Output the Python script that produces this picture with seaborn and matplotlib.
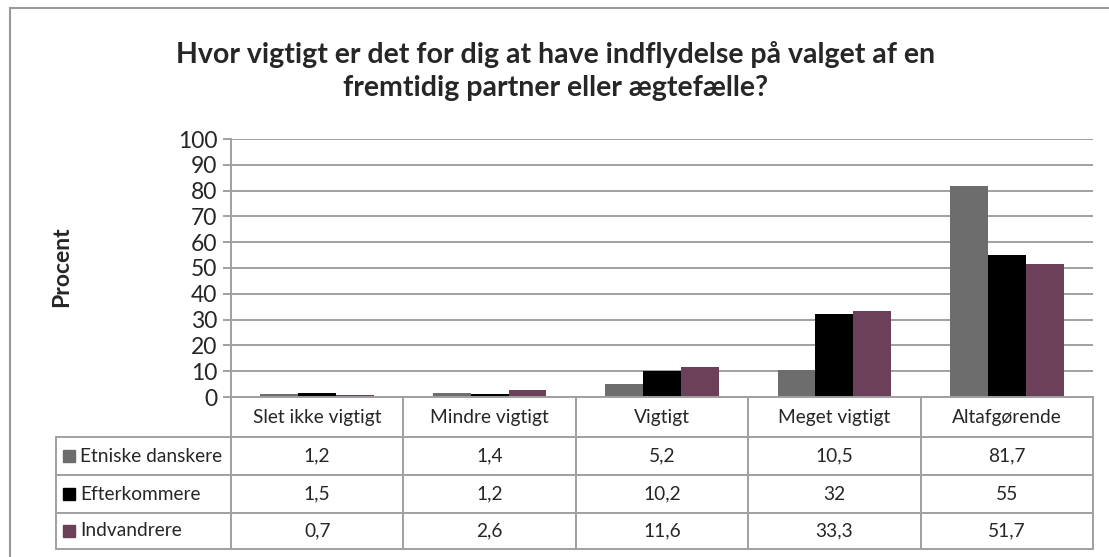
import numpy as np
import pandas as pd
import matplotlib.pyplot as plt
import seaborn as sns
from matplotlib.table import Table
from matplotlib.patches import Rectangle

# data
categories = ["Slet ikke vigtigt", "Mindre vigtigt", "Vigtigt", "Meget vigtigt", "Altafgørende"]
groups = ["Etniske danskere", "Efterkommere", "Indvandrere"]
etniske_danskere = [1.2, 1.4, 5.2, 10.5, 81.7]
efterkommere = [1.5, 1.2, 10.2, 32, 55]
indvandrere = [0.7, 2.6, 11.6, 33.3, 51.7]
colors = ["#6d6d6d", "#000000", "#6c4059"]

series = [etniske_danskere, efterkommere, indvandrere]
df = pd.DataFrame({
    "Kategori": np.tile(categories, len(groups)),
    "Gruppe": np.repeat(groups, len(categories)),
    "Procent": np.concatenate(series),
})

sns.set_style("white")
plt.rcParams["font.family"] = ["Lato", "DejaVu Sans"]
grid_col = "#a0a0a0"

W, H = 1109, 557
fig = plt.figure(figsize=(W / 100, H / 100), dpi=100)
# plot area in pixels: x 231..1093, y 139..397
ax = fig.add_axes([231 / W, 1 - 397 / H, (1093 - 231) / W, (397 - 139) / H])

sns.barplot(data=df, x="Kategori", y="Procent", hue="Gruppe", order=categories,
            hue_order=groups, palette=colors, saturation=1, width=0.66,
            legend=False, ax=ax, linewidth=0)

ax.set_ylim(0, 100)
ax.set_yticks(range(0, 101, 10))
ax.set_xlim(-0.5, len(categories) - 0.5)
ax.set_xticks([])
ax.set_xlabel("")
ax.set_ylabel("")
ax.yaxis.grid(True, color=grid_col, linewidth=1.4)
ax.set_axisbelow(True)
for s in ["top", "right"]:
    ax.spines[s].set_visible(False)
for s in ["left", "bottom"]:
    ax.spines[s].set_color(grid_col)
    ax.spines[s].set_linewidth(1.4)
ax.tick_params(axis="y", length=6, width=1.4, color=grid_col, labelsize=16.5, pad=4,
               left=True)

# data table under the axis
axw, axh = 1093 - 231, 397 - 139
tab = Table(ax, bbox=[(56 - 231) / axw, (397 - 549) / axh, (1093 - 56) / axw, (549 - 397) / axh])
row_h = [40, 38, 38, 36]
lab_w = 175
col_w = (1093 - 231) / len(categories)
for j, cat in enumerate(categories):
    c = tab.add_cell(0, j + 1, width=col_w, height=row_h[0], text=cat, loc="center")
    c.set_edgecolor(grid_col)
    c.set_linewidth(1.4)
for i, (g, vals) in enumerate(zip(groups, series)):
    c = tab.add_cell(i + 1, 0, width=lab_w, height=row_h[i + 1], text=g, loc="left")
    c.PAD = 0.137
    c.set_edgecolor(grid_col)
    c.set_linewidth(1.4)
    for j, v in enumerate(vals):
        txt = f"{v:g}".replace(".", ",")
        c = tab.add_cell(i + 1, j + 1, width=col_w, height=row_h[i + 1], text=txt, loc="center")
        c.set_edgecolor(grid_col)
        c.set_linewidth(1.4)
tab.auto_set_font_size(False)
tab.set_fontsize(13.8)
ax.add_table(tab)

# colour keys in the row labels
key_y = [(397 - 456) / axh, (397 - 494) / axh, (397 - 531) / axh]
for yk, col in zip(key_y, colors):
    ax.plot([(69 - 231) / axw], [yk], marker="s", markersize=8.5, color=col,
            transform=ax.transAxes, clip_on=False, linestyle="none")

fig.text(556 / W, 1 - 71 / H,
         "Hvor vigtigt er det for dig at have indflydelse på valget af en\nfremtidig partner eller ægtefælle?",
         ha="center", va="center", fontsize=20.5, fontweight="bold", linespacing=1.3)
fig.text(62 / W, 1 - 267 / H, "Procent", rotation=90, ha="center", va="center",
         fontsize=16.5, fontweight="bold")

fig.add_artist(Rectangle((10 / W, -0.5), 2, 0.5 + 1 - 8 / H, transform=fig.transFigure,
                         fill=False, edgecolor="#9a9a9a", linewidth=1.5))

fig.savefig("out.png", dpi=100)
